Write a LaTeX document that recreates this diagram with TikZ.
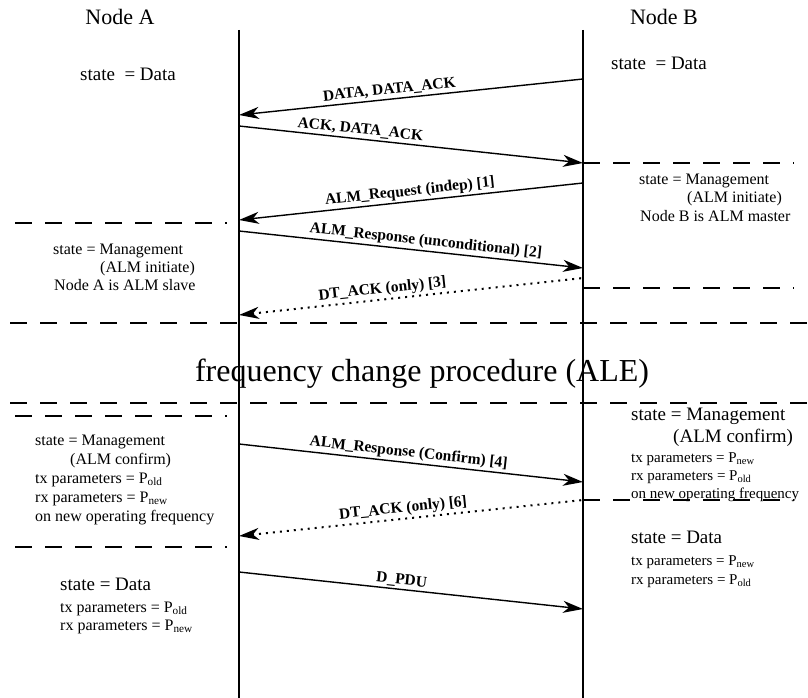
\documentclass[tikz,border=0pt]{standalone}
\usepackage{fontspec}
\setmainfont{Liberation Serif}
\usetikzlibrary{arrows.meta,positioning}

\begin{document}
\begin{tikzpicture}[x=1pt,y=-1pt,
  lifeline/.style={line width=1.3pt},
  fwd/.style={line width=1.4pt,-{Stealth[length=20pt,width=12pt,inset=6pt]}},
  back/.style={line width=1.4pt,{Stealth[length=20pt,width=12pt,inset=6pt]}-},
  dots/.style={line width=2pt,dash pattern=on 2pt off 5pt},
  sep/.style={line width=2pt,dash pattern=on 17pt off 13pt},
  msglbl/.style={font=\bfseries\fontsize{15.5}{17}\selectfont,sloped,above,inner sep=2pt},
  txt/.style={anchor=base west,inner sep=0pt,font=\fontsize{16}{18}\selectfont},
  smalltxt/.style={txt,font=\fontsize{15}{17}\selectfont},
  bigtxt/.style={txt,font=\fontsize{19}{22}\selectfont}]
  \useasboundingbox (0,0) rectangle (808,698);
  % lifelines
  \node[anchor=base,font=\fontsize{22}{26}\selectfont] (nodeA) at (120,25) {Node A};
  \node[anchor=base,font=\fontsize{22}{26}\selectfont] (nodeB) at (664,25) {Node B};
  \coordinate (aTop) at (239,30);
  \coordinate (aBot) at (239,698);
  \coordinate (bTop) at (583,30);
  \coordinate (bBot) at (583,698);
  \draw[lifeline] (aTop) -- (aBot);
  \draw[lifeline] (bTop) -- (bBot);
  % message end points
  \coordinate (a1) at (239,115); \coordinate (b1) at (583,79);
  \coordinate (a2) at (239,126); \coordinate (b2) at (583,163);
  \coordinate (a3) at (239,220); \coordinate (b3) at (583,183);
  \coordinate (a4) at (239,231); \coordinate (b4) at (583,268);
  \coordinate (a5) at (239,315); \coordinate (b5) at (583,278);
  \coordinate (a6) at (239,444); \coordinate (b6) at (583,482);
  \coordinate (a7) at (239,536); \coordinate (b7) at (583,500);
  \coordinate (a8) at (239,572); \coordinate (b8) at (583,609);
  \draw[back] (a1) -- node[msglbl,pos=0.44] {DATA, DATA\_ACK} (b1);
  \draw[fwd] (a2) -- node[msglbl,pos=0.35] {ACK, DATA\_ACK} (b2);
  \draw[back] (a3) -- node[msglbl,pos=0.50] {ALM\_Request (indep) [1]} (b3);
  \draw[fwd] (a4) -- node[msglbl,pos=0.54] {ALM\_Response (unconditional) [2]} (b4);
  \draw[back,dots] (a5) -- node[msglbl,pos=0.42] {DT\_ACK (only) [3]} (b5);
  \draw[fwd] (a6) -- node[msglbl,pos=0.49] {ALM\_Response (Confirm) [4]} (b6);
  \draw[back,dots] (a7) -- node[msglbl,pos=0.48] {DT\_ACK (only) [6]} (b7);
  \draw[fwd] (a8) -- node[msglbl,pos=0.47] {D\_PDU} (b8);
  % state separators
  \draw[sep] (583,163) -- (794,163);
  \draw[sep] (15,223) -- (227,223);
  \draw[sep] (583,288) -- (794,288);
  \draw[sep] (10,323) -- (808,323);
  \draw[sep] (10,403) -- (808,403);
  \draw[sep] (15,416) -- (227,416);
  \draw[sep] (583,500) -- (794,500);
  \draw[sep] (15,547) -- (227,547);
  \node[anchor=base,font=\fontsize{32}{38}\selectfont] (procALE) at (422,381) {frequency change procedure (ALE)};
  % node A states
  \node[bigtxt] (aData) at (80,81) {state~~= Data};
  \node[txt] (aMgmt) at (53,254) {state = Management};
  \node[txt] (aInit) at (100,272) {(ALM initiate)};
  \node[txt] (aSlave) at (54,290) {Node A is ALM slave};
  \node[txt] (aMgmt2) at (35,445) {state = Management};
  \node[txt] (aConf) at (70,464) {(ALM confirm)};
  \node[txt] (aTx) at (35,483) {tx parameters = P\textsubscript{old}};
  \node[txt] (aRx) at (35,502) {rx parameters = P\textsubscript{new}};
  \node[txt] (aFreq) at (35,521) {on new operating frequency};
  \node[bigtxt] (aData2) at (60,590) {state = Data};
  \node[txt] (aTx2) at (60,612) {tx parameters = P\textsubscript{old}};
  \node[txt] (aRx2) at (60,630) {rx parameters = P\textsubscript{new}};
  % node B states
  \node[bigtxt] (bData) at (611,70) {state~~= Data};
  \node[txt] (bMgmt) at (639,184) {state = Management};
  \node[txt] (bInit) at (687,202) {(ALM initiate)};
  \node[txt] (bMaster) at (640,221) {Node B is ALM master};
  \node[bigtxt] (bMgmt2) at (631,420) {state = Management};
  \node[bigtxt] (bConf) at (673,442) {(ALM confirm)};
  \node[smalltxt] (bTx) at (631,462) {tx parameters = P\textsubscript{new}};
  \node[smalltxt] (bRx) at (631,480) {rx parameters = P\textsubscript{old}};
  \node[smalltxt] (bFreq) at (631,498) {on new operating frequency};
  \node[bigtxt] (bData2) at (631,543) {state = Data};
  \node[smalltxt] (bTx2) at (631,565) {tx parameters = P\textsubscript{new}};
  \node[smalltxt] (bRx2) at (631,584) {rx parameters = P\textsubscript{old}};
\end{tikzpicture}
\end{document}
